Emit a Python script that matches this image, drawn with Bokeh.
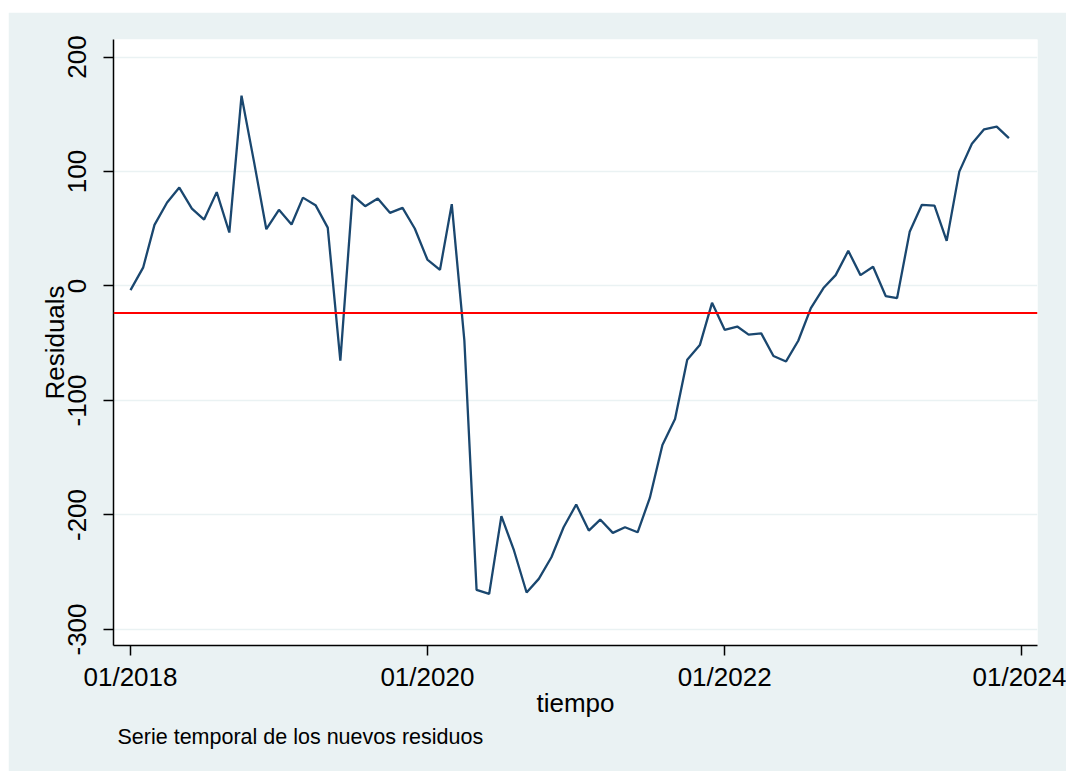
import pandas as pd
from bokeh.plotting import figure
from bokeh.layouts import column, row
from bokeh.models import (Span, FixedTicker, DatetimeTickFormatter, Range1d, Title, Spacer)
from bokeh.embed import file_html
from bokeh.resources import INLINE

# ---- data (monthly, 01/2018 .. 12/2023) ----
start_month = "2018-01-01"
residuals = [
    -3.6, 16.0, 53.4, 72.9, 86.0, 67.6, 58.0, 82.0, 46.7, 166.2, 108.0, 49.6,
    66.5, 53.7, 77.2, 70.6, 51.0, -65.3, 79.3, 69.7, 76.4, 63.9, 68.2, 50.2,
    23.1, 14.1, 71.5, -47.8, -265.4, -268.9, -201.0, -231.0, -267.7, -255.8, -236.9, -210.7,
    -190.9, -213.6, -204.0, -215.6, -210.7, -215.1, -185.1, -138.8, -116.2, -64.5, -51.6, -14.7,
    -38.3, -35.4, -42.5, -41.4, -61.2, -65.9, -47.8, -19.3, -1.8, 9.5, 30.7, 9.5,
    16.8, -8.8, -10.6, 47.3, 70.9, 70.2, 39.4, 99.9, 124.3, 136.9, 139.2, 129.1,
]
months = pd.date_range(start_month, periods=len(residuals), freq="MS")
mean_residual = -23.5
y_ticks = [-300, -200, -100, 0, 100, 200]
y_tick_labels = ["-300", "-200", "-100", "0", "100", "200"]
x_tick_dates = ["2018-01-01", "2020-01-01", "2022-01-01", "2024-01-01"]
x_label = "tiempo"
y_label = "Residuals"
caption = "Serie temporal de los nuevos residuos"

BG = "#EAF2F3"
LINE = "#1A476F"
FONT = "Liberation Sans"

x_ticks_ms = [pd.Timestamp(d).value / 1e6 for d in x_tick_dates]
day = 86400000.0
x0 = x_ticks_ms[0] - 41.8 * day
x1 = x_ticks_ms[-1] + 39.3 * day

p = figure(
    x_axis_type="datetime",
    frame_width=924, frame_height=606,
    min_border_left=105, min_border_right=29,
    min_border_top=27, min_border_bottom=126,
    x_range=Range1d(x0, x1), y_range=Range1d(-314, 215.3),
    output_backend="svg", toolbar_location=None,
    background_fill_color="white", border_fill_color=BG,
    outline_line_color=None,
)

p.line(months, residuals, line_color=LINE, line_width=2.3)
p.add_layout(Span(location=mean_residual, dimension="width",
                  line_color="#FF0000", line_width=2))

# grids
p.xgrid.grid_line_color = None
p.ygrid.grid_line_color = BG
p.ygrid.grid_line_width = 1.5
p.ygrid.ticker = FixedTicker(ticks=y_ticks)

# x axis
p.xaxis.ticker = FixedTicker(ticks=x_ticks_ms)
fmt = "%m/%Y"
p.xaxis.formatter = DatetimeTickFormatter(
    milliseconds=fmt, seconds=fmt, minsec=fmt, minutes=fmt, hourmin=fmt,
    hours=fmt, days=fmt, months=fmt, years=fmt)
p.xaxis.axis_label = x_label

# y axis
p.yaxis.ticker = FixedTicker(ticks=y_ticks)
p.yaxis.major_label_overrides = dict(zip(y_ticks, y_tick_labels))
p.yaxis.axis_label = y_label
p.yaxis.major_label_orientation = "vertical"

for ax in (p.xaxis[0], p.yaxis[0]):
    ax.axis_line_color = "black"
    ax.axis_line_width = 1.5
    ax.major_tick_line_color = "black"
    ax.major_tick_line_width = 1.5
    ax.major_tick_out = 10
    ax.major_tick_in = 0
    ax.minor_tick_line_color = None
    ax.major_label_text_font = FONT
    ax.major_label_text_font_size = "26px"
    ax.major_label_text_color = "black"
    ax.axis_label_text_font = FONT
    ax.axis_label_text_font_size = "26px"
    ax.axis_label_text_font_style = "normal"
    ax.axis_label_text_color = "black"

p.xaxis.major_label_standoff = 6
p.xaxis.axis_label_standoff = -7
p.yaxis.major_label_standoff = 17
p.yaxis.axis_label_standoff = -4

p.add_layout(Title(text=caption, align="left", offset=4,
                   text_font=FONT, text_font_size="21.5px",
                   text_font_style="normal", text_color="black",
                   standoff=5), "below")

layout = column(Spacer(height=12), row(Spacer(width=8), p, spacing=0), spacing=0)

open("out.html", "w").write(file_html(layout, INLINE))
